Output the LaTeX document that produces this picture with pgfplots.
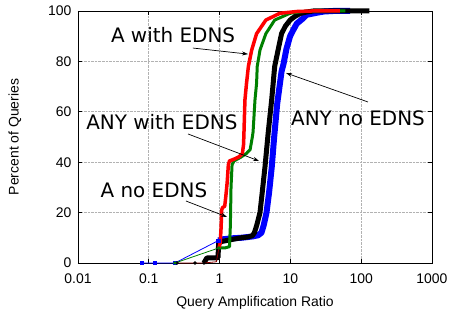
\documentclass[border=0pt]{standalone}
\usepackage{pgfplots}
\pgfplotsset{compat=1.18}
\usepackage{fontspec}
\setmainfont{Liberation Sans}
\newfontfamily\dejavu{DejaVu Sans}
\usetikzlibrary{arrows.meta}
\definecolor{gred}{RGB}{255,0,0}
\definecolor{ggreen}{RGB}{0,128,0}
\definecolor{gblue}{RGB}{0,0,255}
\definecolor{dred}{RGB}{140,0,0}
\begin{document}
\begin{tikzpicture}
\begin{axis}[
  at={(0,0)}, anchor=south west,
  scale only axis, width=354bp, height=252bp,
  xmode=log, xmin=0.01, xmax=1000, ymin=0, ymax=100,
  log basis x=10,
  xtick={0.01,0.1,1,10,100,1000},
  xticklabels={0.01,0.1,1,10,100,1000},
  ytick={0,20,40,60,80,100},
  minor y tick num=0,
  tick align=inside,
  major tick length=4bp, minor tick length=2bp,
  grid=major,
  major grid style={densely dotted, gray!60, line width=0.6bp},
  axis line style={line width=0.9bp},
  tick style={black, line width=0.6bp},
  /pgf/number format/assume math mode=true,
  ticklabel style={font=\fontsize{14}{16}\selectfont},
  xticklabel style={yshift=-7bp},
  yticklabel style={xshift=-3bp},
  xlabel={Query Amplification Ratio},
  ylabel={Percent of Queries},
  label style={font=\fontsize{14}{16}\selectfont},
  xlabel style={at={(axis description cs:0.5,-0.16)}, anchor=center},
  ylabel style={at={(axis description cs:-0.178,0.5)}, anchor=center},
  clip=false,
]
% ANY no EDNS (blue)
\addplot[gblue, line width=0.8bp, mark=square*, mark size=1.6bp, mark options={solid}] coordinates {
(0.079,0) (0.122,0) (0.234,0) (0.96,8.9)};
\addplot[gblue, line width=6bp, line join=round] coordinates {
(0.96,8.9) (1.1,9.4) (1.5,9.8) (2.0,10.0) (2.5,10.3) (3.0,10.6) (3.5,11.0) (3.9,12) (4.2,15) (4.6,20) (5.0,28) (5.45,38) (5.9,50) (6.5,63) (7.1,71) (7.5,76) (8.0,79) (8.8,85) (9.9,90) (11,92.5) (12.3,95) (15,97) (17,98.5) (23.5,99.3) (30,99.8) (40,100) (70,100)};
% A no EDNS (black)
\addplot[black, line width=0.8bp, mark=*, mark size=1.3bp] coordinates {
(0.25,0) (0.45,0) (0.6,0)};
\addplot[black, line width=5bp, line join=round] coordinates {
(0.6,0) (0.63,1) (0.66,2) (0.9,2) (0.95,2.2) (0.97,8) (1.1,8.6) (1.3,9) (1.6,9.5) (2.0,10) (2.5,10.3) (2.9,10.8) (3.1,12) (3.35,15) (3.72,20) (4.0,28) (4.37,38) (4.87,52) (5.45,65) (6.0,78) (6.7,84.5) (7.5,91) (8.5,94) (9.9,96.4) (11.5,97.8) (13.7,99) (17,99.6) (21,100) (50,100) (130,100)};
% ANY with EDNS (green)
\addplot[ggreen, line width=0.8bp, mark=*, mark size=1.2bp] coordinates {
(0.234,0) (0.98,6)};
\addplot[ggreen, line width=3bp, line join=round] coordinates {
(0.98,6) (1.2,6) (1.38,6.5) (1.42,15) (1.45,30) (1.5,39) (1.6,40.5) (2.0,42) (2.4,43.5) (2.7,45) (2.9,50) (2.97,52) (3.16,64.7) (3.33,71.3) (3.4,78) (3.72,84.5) (4.5,91) (6.0,96.4) (9.9,99.1) (15,99.8) (25,100) (60,100)};
% A with EDNS (red)
\addplot[dred, line width=0.8bp] coordinates {
(0.25,0) (0.6,0) (0.9,0.5) (0.98,6)};
\addplot[gred, line width=3.5bp, line join=round] coordinates {
(0.98,6) (1.02,8) (1.05,14) (1.07,21) (1.1,22) (1.18,22.5) (1.22,26) (1.28,32) (1.33,39) (1.38,40.5) (1.6,41.2) (1.9,42.2) (2.1,43.5) (2.18,47) (2.21,52) (2.28,64.7) (2.4,71.3) (2.55,78) (2.84,84.5) (3.33,91) (4.5,96.4) (7.1,99.1) (12.3,99.8) (20,100) (50,100)};
% annotations
\node[font=\dejavu\fontsize{20}{24}\selectfont] at (axis cs:0.22,90.5) {A with EDNS};
\draw[-{Stealth[length=6bp,width=4bp]}, line width=0.7bp] (axis cs:0.42,85.3) -- (axis cs:2.52,82.9);
\node[font=\dejavu\fontsize{20}{24}\selectfont] at (axis cs:90.1,57.5) {ANY no EDNS};
\draw[-{Stealth[length=6bp,width=4bp]}, line width=0.7bp] (axis cs:124.7,63.9) -- (axis cs:8.67,75.4);
\node[font=\dejavu\fontsize{20}{24}\selectfont] at (axis cs:0.153,56) {ANY with EDNS};
\draw[-{Stealth[length=6bp,width=4bp]}, line width=0.7bp] (axis cs:0.358,51.2) -- (axis cs:3.6,40.5);
\node[font=\dejavu\fontsize{20}{24}\selectfont] at (axis cs:0.118,29) {A no EDNS};
\draw[-{Stealth[length=6bp,width=4bp]}, line width=0.7bp] (axis cs:0.335,24.6) -- (axis cs:1.27,18.3);
\end{axis}
\pgfresetboundingbox
\path[use as bounding box] (-78bp,-51bp) rectangle (375bp,263bp);
\end{tikzpicture}
\end{document}
